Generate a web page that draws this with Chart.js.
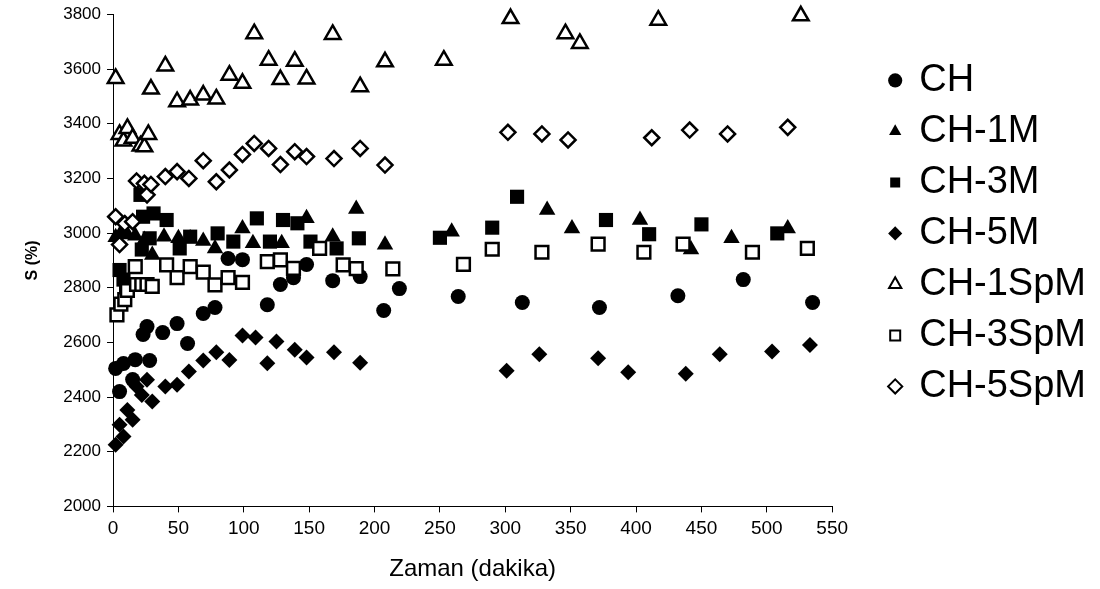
<!DOCTYPE html>
<html>
<head>
<meta charset="utf-8">
<script src="https://cdn.jsdelivr.net/npm/chart.js@4.4.1/dist/chart.umd.min.js"></script>
<style>
  html, body { margin: 0; padding: 0; background: #ffffff; }
  #wrap { width: 1100px; height: 589px; position: relative; }
</style>
</head>
<body>
<div id="wrap"><canvas id="c" width="1100" height="589"></canvas></div>
<script>
const seriesNames = ['CH', 'CH-1M', 'CH-3M', 'CH-5M', 'CH-1SpM', 'CH-3SpM', 'CH-5SpM'];
const xTicks = [0, 50, 100, 150, 200, 250, 300, 350, 400, 450, 500, 550];
const yTicks = [2000, 2200, 2400, 2600, 2800, 3000, 3200, 3400, 3600, 3800];

// [time (dakika), S (%)]
const CH = [[2,2505],[5,2420],[8,2523],[15,2464],[17,2537],[23,2629],[26,2658],[28,2534],[38,2636],[49,2669],[57,2596],[69,2706],[78,2728],[88,2907],[99,2903],[118,2738],[128,2812],[138,2837],[148,2885],[168,2826],[189,2841],[207,2717],[219,2797],[264,2768],[313,2746],[372,2728],[432,2771],[482,2830],[535,2746]];
const CH_1M = [[2,2985],[6,3000],[11,2995],[17,2990],[24,2975],[30,2920],[39,2987],[50,2981],[59,2980],[69,2971],[78,2944],[99,3017],[107,2963],[129,2963],[148,3054],[168,2987],[186,3088],[208,2957],[259,3005],[332,3085],[351,3017],[403,3048],[442,2940],[473,2981],[516,3017]];
const CH_3M = [[5,2865],[8,2830],[10,2800],[21,3140],[22,2940],[23,3060],[28,2981],[31,3072],[41,3048],[51,2944],[59,2987],[80,2999],[92,2969],[110,3054],[120,2969],[130,3048],[141,3036],[151,2969],[171,2944],[188,2981],[250,2983],[290,3020],[309,3133],[377,3048],[410,2996],[450,3032],[508,2999]];
const CH_5M = [[2,2226],[5,2299],[8,2256],[11,2353],[15,2317],[18,2439],[22,2408],[26,2463],[30,2384],[40,2439],[49,2445],[58,2494],[69,2534],[79,2564],[89,2536],[99,2625],[109,2618],[118,2524],[125,2603],[139,2573],[148,2545],[169,2564],[189,2526],[301,2496],[326,2557],[371,2542],[394,2491],[438,2485],[464,2557],[504,2567],[533,2591]];
const CH_1SpM = [[2,3566],[5,3361],[8,3337],[11,3383],[15,3347],[21,3319],[24,3316],[27,3361],[29,3527],[40,3612],[49,3481],[59,3487],[69,3505],[79,3491],[89,3578],[99,3548],[108,3730],[119,3633],[128,3562],[139,3629],[148,3564],[168,3727],[189,3536],[208,3627],[253,3633],[304,3785],[346,3730],[357,3694],[417,3779],[526,3795]];
const CH_3SpM = [[3,2701],[6,2740],[9,2757],[11,2790],[17,2877],[18,2812],[22,2812],[26,2812],[30,2805],[41,2884],[49,2837],[59,2877],[69,2857],[78,2811],[88,2837],[99,2820],[118,2896],[128,2902],[138,2871],[158,2944],[176,2884],[186,2870],[214,2869],[268,2886],[290,2941],[328,2930],[371,2960],[406,2930],[436,2960],[489,2930],[531,2944]];
const CH_5SpM = [[2,3060],[5,2958],[9,3035],[15,3042],[18,3191],[24,3182],[26,3140],[29,3178],[40,3207],[49,3225],[58,3200],[69,3265],[79,3188],[89,3231],[99,3288],[108,3328],[119,3310],[128,3251],[139,3298],[148,3280],[169,3273],[189,3310],[208,3249],[302,3369],[328,3363],[348,3341],[412,3349],[441,3377],[470,3363],[516,3387]];

const seriesData = [CH, CH_1M, CH_3M, CH_5M, CH_1SpM, CH_3SpM, CH_5SpM];
const styles = [
  { pointStyle: 'circle',   radius: 7.5, fill: '#000000', bw: 0 },
  { pointStyle: 'triangle', radius: 9.5, fill: '#000000', bw: 0 },
  { pointStyle: 'rect',     radius: 10,  fill: '#000000', bw: 0 },
  { pointStyle: 'rectRot',  radius: 8,   fill: '#000000', bw: 0 },
  { pointStyle: 'triangle', radius: 9,   fill: '#ffffff', bw: 2.5 },
  { pointStyle: 'rect',     radius: 9,   fill: '#ffffff', bw: 2.5 },
  { pointStyle: 'rectRot',  radius: 7.5, fill: '#ffffff', bw: 2.5 }
];

const datasets = seriesNames.map((name, i) => ({
  label: name,
  data: seriesData[i].map(p => ({ x: p[0], y: p[1] })),
  pointStyle: styles[i].pointStyle,
  pointRadius: styles[i].radius,
  pointHoverRadius: styles[i].radius,
  backgroundColor: styles[i].fill,
  borderColor: '#000000',
  borderWidth: styles[i].bw,
  pointBorderWidth: styles[i].bw,
  showLine: false,
  clip: false,
  order: -i
}));

const baseFont = "Arial, 'Liberation Sans', sans-serif";

new Chart(document.getElementById('c'), {
  type: 'scatter',
  data: { datasets },
  options: {
    responsive: false,
    animation: false,
    devicePixelRatio: 1,
    layout: { padding: { top: 0, right: 4, left: 0, bottom: 0 } },
    plugins: {
      tooltip: { enabled: false },
      legend: {
        position: 'right',
        align: 'start',
        maxWidth: 400,
        title: { display: true, text: ' ', font: { size: 12, family: baseFont }, padding: { top: 19, bottom: 15 } },
        labels: {
          usePointStyle: true,
          boxWidth: 10,
          boxHeight: 10,
          padding: 13,
          color: '#000000',
          font: { size: 38, family: baseFont },
          sort: (a, b) => a.datasetIndex - b.datasetIndex,
          generateLabels: (chart) => chart.data.datasets.map((ds, i) => ({
            text: ds.label,
            datasetIndex: i,
            pointStyle: ds.pointStyle,
            fillStyle: ds.backgroundColor,
            strokeStyle: '#000000',
            lineWidth: ds.borderWidth ? 2 : 0,
            fontColor: '#000000',
            hidden: false
          }))
        }
      }
    },
    scales: {
      x: {
        type: 'linear',
        min: xTicks[0],
        max: xTicks[xTicks.length - 1],
        afterBuildTicks: (s) => { s.ticks = xTicks.map(v => ({ value: v })); },
        grid: { display: true, drawOnChartArea: false, drawTicks: true, tickLength: 6, color: '#000000', lineWidth: 1 },
        border: { display: true, color: '#000000', width: 1 },
        ticks: { color: '#000000', font: { size: 19, family: baseFont }, padding: 5, maxRotation: 0, callback: (v) => String(v) },
        title: { display: true, text: 'Zaman (dakika)', color: '#000000', font: { size: 24, family: baseFont }, padding: { top: 10, bottom: 5 } }
      },
      y: {
        type: 'linear',
        min: yTicks[0],
        max: yTicks[yTicks.length - 1],
        afterBuildTicks: (s) => { s.ticks = yTicks.map(v => ({ value: v })); },
        grid: { display: true, drawOnChartArea: false, drawTicks: true, tickLength: 6, color: '#000000', lineWidth: 1 },
        border: { display: true, color: '#000000', width: 1 },
        ticks: { color: '#000000', font: { size: 17, family: baseFont, lineHeight: 1.0 }, padding: 6, callback: (v) => String(v) },
        title: { display: true, text: 'S (%)', color: '#000000', font: { size: 16, family: baseFont, weight: 'bold' }, padding: { top: 23, bottom: 15 } }
      },
      gap: {
        type: 'linear',
        position: 'right',
        display: true,
        grid: { display: false },
        border: { display: false },
        ticks: { display: false },
        afterFit: (s) => { s.width = 45; }
      }
    }
  }
});
</script>
</body>
</html>
